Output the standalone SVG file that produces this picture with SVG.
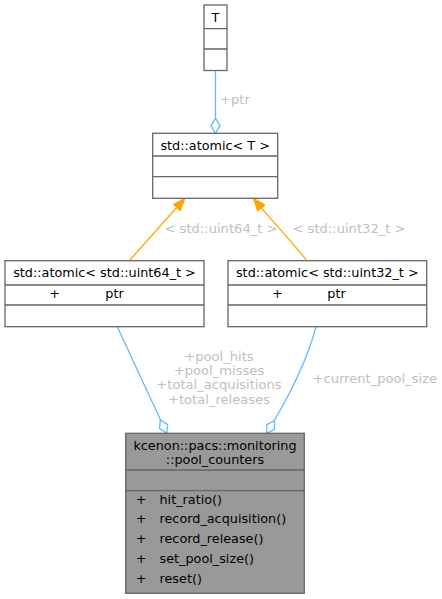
<svg xmlns="http://www.w3.org/2000/svg" width="442" height="599" viewBox="0 0 442 599">
<style>
text{font-family:"DejaVu Sans","Liberation Sans",sans-serif;font-size:12.8px;fill:#000}
.box{fill:#fff;stroke:#666;stroke-width:1.3}
.main{fill:#999;stroke:#666;stroke-width:1.3}
.div{stroke:#666;stroke-width:1.3;fill:none}
.lbl{fill:#c0c0c0;font-size:13.1px}
.use{fill:none;stroke:#63b8ff;stroke-width:1.3}
.inh{fill:none;stroke:#ffa500;stroke-width:1.3}
.c{text-anchor:middle}
</style>
<defs>
<marker id="tri" markerUnits="userSpaceOnUse" viewBox="0 0 13 10" refX="13" refY="5" markerWidth="13" markerHeight="10" orient="auto">
<path d="M0,0 L13,5 L0,10 z" fill="#ffa500" stroke="#ffa500"/>
</marker>
<marker id="dia" markerUnits="userSpaceOnUse" viewBox="-1 -1 17 11" refX="15" refY="4.5" markerWidth="17" markerHeight="11" orient="auto">
<path d="M0,4.5 L7.5,0 L15,4.5 L7.5,9 z" fill="#fff" stroke="#63b8ff" stroke-width="1.3"/>
</marker>
</defs>
<g id="connectors">
<path class="use" d="M215.5,70.7 L215.5,133.3" marker-end="url(#dia)"/>
<text class="lbl" x="220" y="104">+ptr</text>
<path class="inh" d="M129.3,260.7 L185,198.3" marker-end="url(#tri)"/>
<text class="lbl c" x="221" y="232.5">&lt; std::uint64_t &gt;</text>
<path class="inh" d="M306.7,260.7 C295,245 273,222 253.3,198.3" marker-end="url(#tri)"/>
<text class="lbl c" x="349" y="232.5">&lt; std::uint32_t &gt;</text>
<path class="use" d="M117.3,326.7 L166.7,433.3" marker-end="url(#dia)"/>
<text class="lbl c" x="219" y="360.5">+pool_hits</text>
<text class="lbl c" x="219" y="375">+pool_misses</text>
<text class="lbl c" x="219" y="389.3">+total_acquisitions</text>
<text class="lbl c" x="219" y="404">+total_releases</text>
<path class="use" d="M316,326.7 C308,358 292,392 266.7,433.3" marker-end="url(#dia)"/>
<text class="lbl" x="312.5" y="382.5">+current_pool_size</text>
</g>
<g id="T">
<rect class="box" x="204" y="5" width="23" height="65.5"/>
<path class="div" d="M204,28.7 H227 M204,49 H227"/>
<text class="c" x="215.5" y="21.5">T</text>
</g>
<g id="atomic_T">
<rect class="box" x="152.7" y="133.3" width="125" height="65"/>
<path class="div" d="M152.7,156 H277.7 M152.7,176.7 H277.7"/>
<text class="c" x="215.2" y="149.5">std::atomic&lt; T &gt;</text>
</g>
<g id="atomic_uint64">
<rect class="box" x="5" y="260.7" width="199" height="66"/>
<path class="div" d="M5,285 H204 M5,305 H204"/>
<text class="c" x="104.5" y="277">std::atomic&lt; std::uint64_t &gt;</text>
<text class="c" x="54.5" y="298">+</text>
<text x="105.3" y="298">ptr</text>
</g>
<g id="atomic_uint32">
<rect class="box" x="228" y="260.7" width="198.7" height="66"/>
<path class="div" d="M228,285 H426.7 M228,305 H426.7"/>
<text class="c" x="327.3" y="277">std::atomic&lt; std::uint32_t &gt;</text>
<text class="c" x="277.3" y="298">+</text>
<text x="327.3" y="298">ptr</text>
</g>
<g id="pool_counters">
<rect class="main" x="125.7" y="433.3" width="178.6" height="160"/>
<path class="div" d="M125.7,470 H304.3 M125.7,490.7 H304.3"/>
<text class="c" x="215" y="450">kcenon::pacs::monitoring</text>
<text class="c" x="215" y="464">::pool_counters</text>
<text class="c" x="141" y="503.5">+</text>
<text x="159.5" y="503.5">hit_ratio()</text>
<text class="c" x="141" y="523">+</text>
<text x="159.5" y="523">record_acquisition()</text>
<text class="c" x="141" y="543">+</text>
<text x="159.5" y="543">record_release()</text>
<text class="c" x="141" y="563">+</text>
<text x="159.5" y="563">set_pool_size()</text>
<text class="c" x="141" y="583">+</text>
<text x="159.5" y="583">reset()</text>
</g>
</svg>
